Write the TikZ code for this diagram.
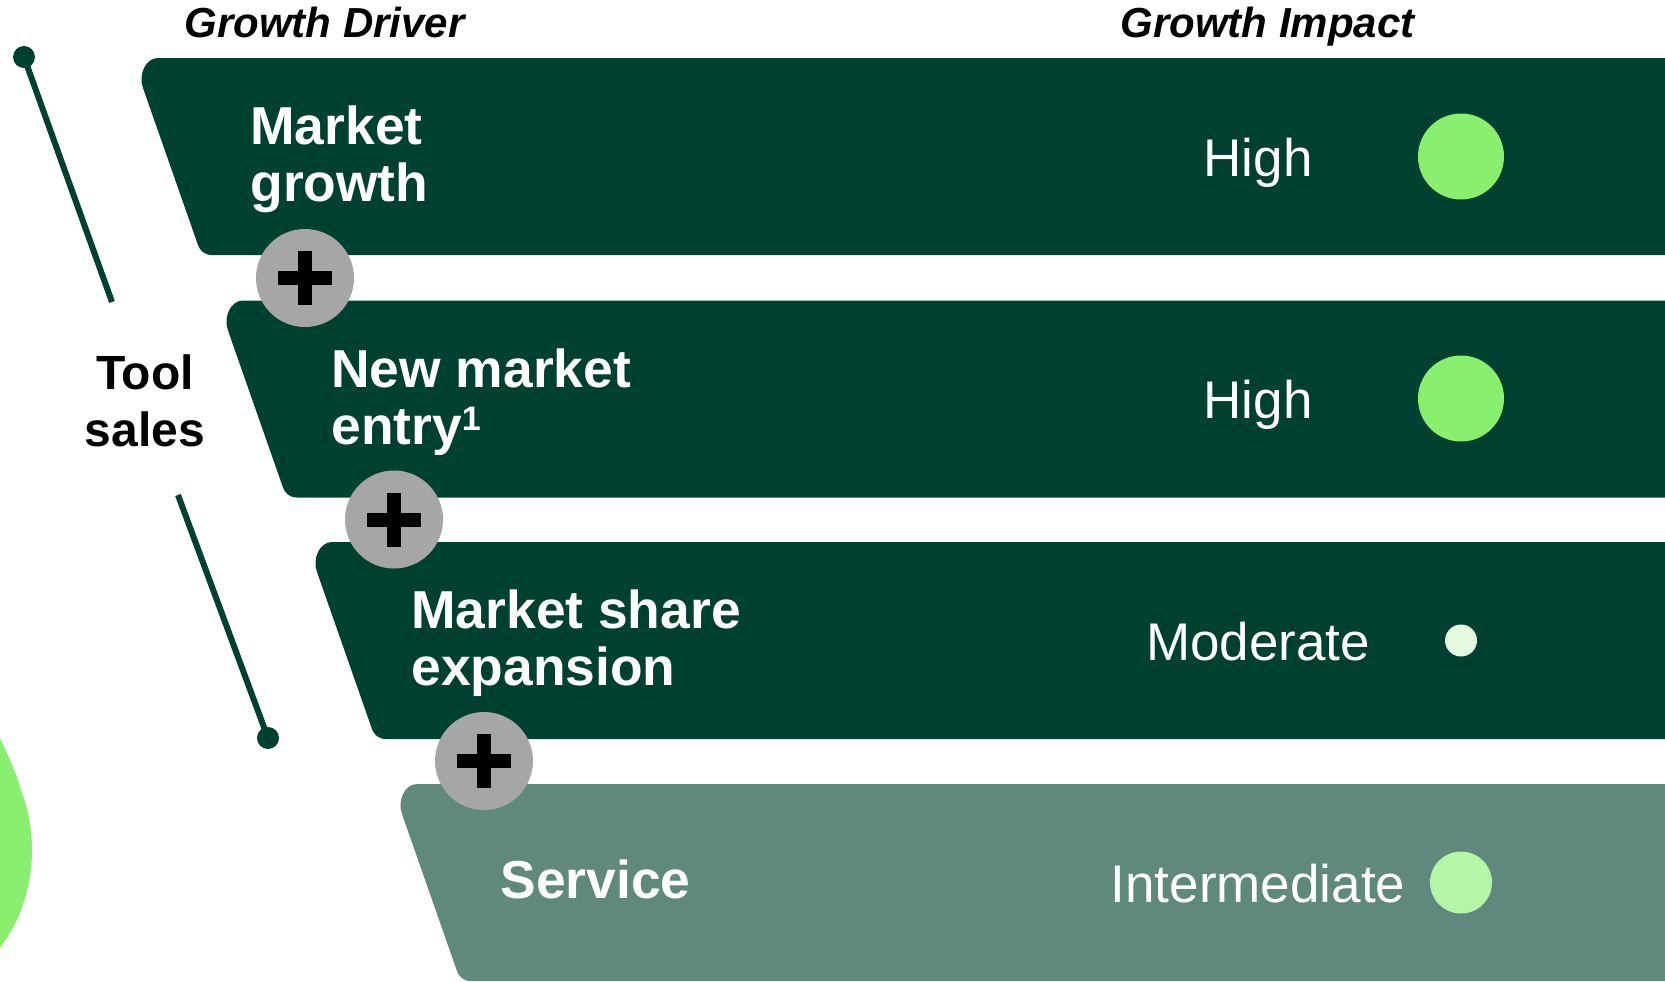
\documentclass[tikz,border=0pt]{standalone}
\usepackage{fontspec}
\setmainfont{Liberation Sans}
\definecolor{dkgreen}{RGB}{0,64,48}
\definecolor{svgreen}{RGB}{96,137,125}
\definecolor{plusgray}{RGB}{166,166,166}
\definecolor{hicol}{RGB}{137,240,111}
\definecolor{modcol}{RGB}{229,249,224}
\definecolor{intcol}{RGB}{181,245,168}
\newcommand\bandshape[3]{%
  \fill[#3] (1700,#1) -- (#2+16,#1) .. controls (#2+4,#1) and (#2-4,#1+16) .. (#2+1,#1+30)
    -- (#2+56,#1+187) .. controls (#2+57.7,#1+192) and (#2+62,#1+197) .. (#2+70,#1+197)
    -- (1700,#1+197) -- cycle;}
\newcommand\supone{\raisebox{0.25em}{\fontsize{17pt}{17pt}\selectfont 1}}
\tikzset{
  bandtext/.style={text=white, font=\fontsize{26.7pt}{28.5pt}\selectfont\bfseries, align=left, inner sep=0pt, anchor=west},
  impact/.style={text=white, font=\fontsize{26.5pt}{28.5pt}\selectfont, inner sep=0pt, anchor=base},
  header/.style={font=\fontsize{21pt}{24pt}\selectfont\bfseries\itshape, inner sep=0pt, anchor=base west},
  pluscirc/.style={circle, fill=plusgray, minimum size=49pt, inner sep=0pt},
  rating/.style={circle, inner sep=0pt},
  dotlink/.style={line width=3pt, draw=dkgreen},
}
\begin{document}
\begin{tikzpicture}[x=0.5pt,y=-0.5pt]
\useasboundingbox (0,0) rectangle (1665,981);
% leaf
\fill[hicol] (-5,738) -- (0,738) .. controls (8,755) and (16,772) .. (22,793)
  .. controls (28,808) and (32,830) .. (32,850)
  .. controls (32,895) and (15,928) .. (0,948) -- (-5,948) -- cycle;
% headers
\node[header] (hd1) at (184,37) {Growth Driver};
\node[header] (hd2) at (1120,37) {Growth Impact};
% bands
\bandshape{58}{142}{dkgreen}
\bandshape{300.5}{227}{dkgreen}
\bandshape{542}{316}{dkgreen}
\bandshape{784}{401}{svgreen}
% band texts
\node[bandtext] (t1) at (250,159.8) {Market\\growth};
\node[bandtext] (t2) at (331,401.8) {New market\\entry\supone};
\node[bandtext] (t3) at (411,642.8) {Market share\\expansion};
\node[bandtext, anchor=base west] (t4) at (500,898) {Service};
% impacts
\node[impact] (i1) at (1258,176) {High};
\node[impact] (i2) at (1258,418) {High};
\node[impact] (i3) at (1258,660) {Moderate};
\node[impact] (i4) at (1258,902) {Intermediate};
\node[rating, fill=hicol, minimum size=43pt] (c1) at (1461,156.5) {};
\node[rating, fill=hicol, minimum size=43pt] (c2) at (1461,398.5) {};
\node[rating, fill=modcol, minimum size=16pt] (c3) at (1461,640.5) {};
\node[rating, fill=intcol, minimum size=31pt] (c4) at (1461,882.5) {};
% plus circles
\foreach \x/\y [count=\i] in {305/278,394/519.5,484/761}{
  \node[pluscirc] (plus\i) at (\x,\y) {};
  \fill[black] (\x-27,\y-7) rectangle (\x+27,\y+7);
  \fill[black] (\x-7,\y-27) rectangle (\x+7,\y+27);
}
% tool sales
\node[font=\fontsize{24pt}{28.5pt}\selectfont\bfseries, align=center, inner sep=0pt] (tool) at (145,400.6) {Tool\\sales};
\coordinate (d1) at (24,57);
\coordinate (e1) at (112,302);
\coordinate (e2) at (178,495);
\coordinate (d2) at (268,738);
\draw[dotlink] (d1) -- (e1);
\draw[dotlink] (e2) -- (d2);
\fill[dkgreen] (d1) circle (11);
\fill[dkgreen] (d2) circle (11);
\end{tikzpicture}
\end{document}
